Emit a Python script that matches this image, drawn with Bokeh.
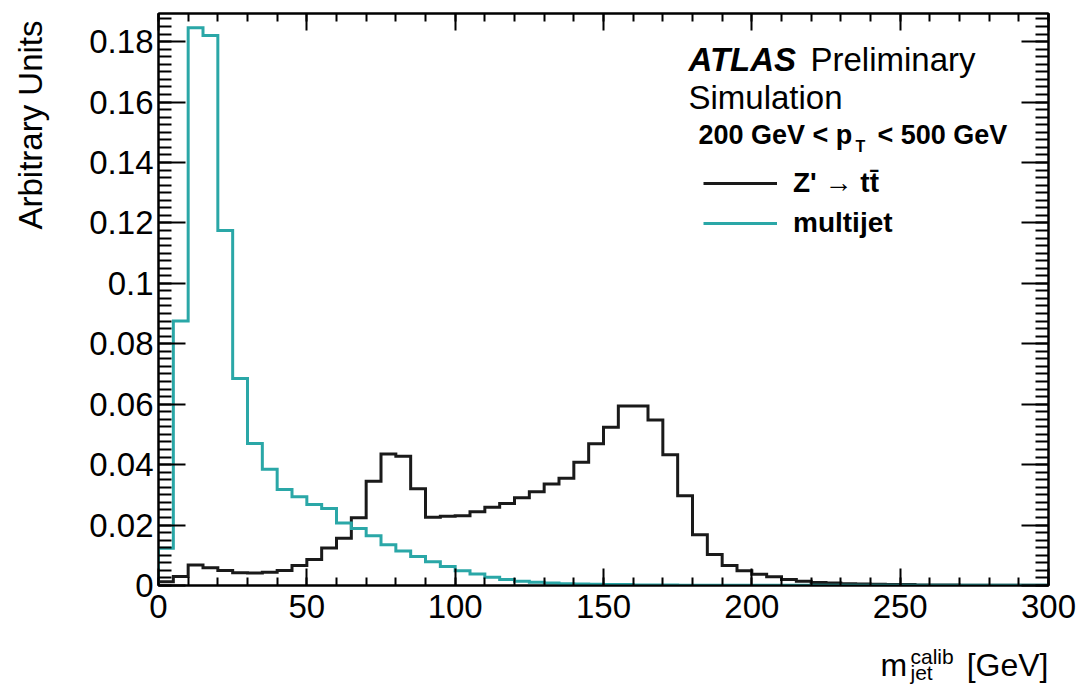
import numpy as np
from bokeh.plotting import figure
from bokeh.layouts import row, column
from bokeh.models import (Range1d, LinearAxis, FixedTicker, Label, Legend, LegendItem,
                          CustomJSTickFormatter)
from bokeh.embed import file_html
from bokeh.resources import INLINE

# ---- data ----
bin_width = 5.0
x_min, x_max = 0.0, 300.0

zprime_ttbar = [
    0.0012, 0.0030, 0.0068, 0.0059, 0.0050, 0.0042, 0.0041, 0.0044, 0.0050, 0.0066,
    0.0086, 0.0124, 0.0156, 0.0224, 0.0345, 0.0435, 0.0428, 0.0320, 0.0226, 0.0229,
    0.0231, 0.0244, 0.0259, 0.0271, 0.0290, 0.0310, 0.0336, 0.0355, 0.0408, 0.0469,
    0.0524, 0.0594, 0.0594, 0.0548, 0.0433, 0.0297, 0.0168, 0.0103, 0.0066, 0.0049,
    0.0037, 0.0029, 0.0020, 0.0014, 0.0010, 0.0008, 0.0006, 0.0005, 0.0004, 0.0003,
    0.0003, 0.0002, 0.0002, 0.0002, 0.0001, 0.0001, 0.0001, 0.0001, 0.0001, 0.0001,
]

multijet = [
    0.0123, 0.0875, 0.1846, 0.1820, 0.1175, 0.0685, 0.0470, 0.0385, 0.0318, 0.0294,
    0.0268, 0.0255, 0.0207, 0.0189, 0.0165, 0.0135, 0.0114, 0.0096, 0.0079, 0.0063,
    0.0049, 0.0038, 0.0027, 0.0020, 0.0014, 0.0011, 0.0008, 0.0006, 0.0005, 0.0004,
    0.0003, 0.0003, 0.0002, 0.0002, 0.0002, 0.0001, 0.0001, 0.0001, 0.0001, 0.0001,
    0.0001, 0.0001, 0.0001, 0.0001, 0.0001, 0.0001, 0.0001, 0.0001, 0.0001, 0.0001,
    0.0001, 0.0001, 0.0001, 0.0001, 0.0001, 0.0001, 0.0001, 0.0001, 0.0001, 0.0001,
]

series_labels = ["Z' \u2192 tt\u0304", "multijet"]

x_ticks = [0, 50, 100, 150, 200, 250, 300]
x_tick_labels = ["0", "50", "100", "150", "200", "250", "300"]
y_ticks = [0, 0.02, 0.04, 0.06, 0.08, 0.1, 0.12, 0.14, 0.16, 0.18]
y_tick_labels = ["0", "0.02", "0.04", "0.06", "0.08", "0.1", "0.12", "0.14", "0.16", "0.18"]
y_top = 0.1893

FONT = "Liberation Sans"
BLACK = "#1a1a1a"
TEAL = "#2aa7a7"

LEFT_W = 60
MAIN_H = 640
TOTAL_W = 1076
TOTAL_H = 685

# ---- main figure ----
p = figure(width=TOTAL_W - LEFT_W, height=MAIN_H, output_backend="svg", toolbar_location=None,
           x_range=Range1d(x_min, x_max), y_range=Range1d(0, y_top),
           min_border_left=158 - LEFT_W, min_border_right=28, min_border_top=13,
           min_border_bottom=MAIN_H - 585,
           x_axis_type=None, y_axis_type=None)
p.grid.visible = False
p.outline_line_color = "black"
p.outline_line_width = 2
p.background_fill_color = "white"
p.border_fill_color = "white"

edges = np.arange(x_min, x_max + bin_width / 2, bin_width)


def step_outline(vals):
    xs = np.repeat(edges, 2)
    ys = np.concatenate([[0.0], np.repeat(np.asarray(vals, dtype=float), 2), [0.0]])
    return xs, ys


bx, by = step_outline(zprime_ttbar)
tx, ty = step_outline(multijet)
r_black = p.line(bx, by, line_color=BLACK, line_width=3, line_join="miter")
r_teal = p.line(tx, ty, line_color=TEAL, line_width=3, line_join="miter")

x_minor = list(np.arange(x_min, x_max + 0.1, 10))
y_minor = list(np.arange(0, y_top, 0.0025))
xt = FixedTicker(ticks=x_ticks, minor_ticks=x_minor)
yt = FixedTicker(ticks=y_ticks, minor_ticks=y_minor)
blank = CustomJSTickFormatter(code="return '';")


def style_axis(ax, tick_major, tick_minor, standoff):
    ax.axis_line_color = "black"
    ax.axis_line_width = 2
    ax.major_tick_in = tick_major
    ax.major_tick_out = 0
    ax.minor_tick_in = tick_minor
    ax.minor_tick_out = 0
    ax.major_tick_line_width = 2
    ax.minor_tick_line_width = 2
    ax.major_tick_line_color = "black"
    ax.minor_tick_line_color = "black"
    ax.major_label_text_font = FONT
    ax.major_label_text_color = "black"
    ax.major_label_text_font_size = "33px"
    ax.major_label_standoff = standoff


xb = LinearAxis(ticker=xt, major_label_overrides={t: l for t, l in zip(x_ticks, x_tick_labels)})
style_axis(xb, 17, 8, 9)
p.add_layout(xb, "below")
xa = LinearAxis(ticker=xt, formatter=blank)
style_axis(xa, 17, 8, 0)
p.add_layout(xa, "above")
yl = LinearAxis(ticker=yt, major_label_overrides={t: l for t, l in zip(y_ticks, y_tick_labels)})
style_axis(yl, 27, 13, 5)
p.add_layout(yl, "left")
yr = LinearAxis(ticker=yt, formatter=blank)
style_axis(yr, 27, 13, 0)
p.add_layout(yr, "right")


def lab(fig, text, x, y, size, style="normal", align="left", angle=0.0):
    fig.add_layout(Label(x=x, y=y, x_units="screen", y_units="screen", text=text,
                         text_font=FONT, text_font_size=size, text_font_style=style,
                         text_align=align, text_baseline="alphabetic", angle=angle,
                         text_color="black"))


# ATLAS block (screen coords relative to the frame's bottom-left)
lab(p, "ATLAS", 530, 526, "33px", "bold italic")
lab(p, "Preliminary", 652, 526, "33px")
lab(p, "Simulation", 530, 488, "33px")
lab(p, "200 GeV < p", 540, 451, "27px", "bold")
lab(p, "T", 697, 439, "16px", "bold")
lab(p, "< 500 GeV", 719, 451, "27px", "bold")

legend = Legend(items=[LegendItem(label=series_labels[0], renderers=[r_black]),
                       LegendItem(label=series_labels[1], renderers=[r_teal])],
                location=(545, 346))
legend.glyph_width = 74
legend.glyph_height = 24
legend.label_height = 24
legend.label_standoff = 16
legend.spacing = 8
legend.padding = 0
legend.margin = 0
legend.border_line_color = None
legend.background_fill_alpha = 0
legend.label_text_font = FONT
legend.label_text_font_size = "28px"
legend.label_text_font_style = "bold"
legend.label_text_color = "black"
p.add_layout(legend)


def blank_fig(w, h):
    f = figure(width=w, height=h, output_backend="svg", toolbar_location=None,
               x_range=Range1d(0, 1), y_range=Range1d(0, 1),
               min_border=0, x_axis_type=None, y_axis_type=None)
    f.grid.visible = False
    f.outline_line_color = None
    f.background_fill_color = "white"
    f.border_fill_color = "white"
    return f


# y-axis title panel (text starts at the bottom and reads upwards)
left = blank_fig(LEFT_W, MAIN_H)
lab(left, "Arbitrary Units", 30, 356, "33px", "normal", "left", np.pi / 2)

# x-axis title panel
bottom = blank_fig(TOTAL_W, TOTAL_H - MAIN_H)
lab(bottom, "m", 880, 21, "32px")
lab(bottom, "calib", 910, 29, "21px")
lab(bottom, "jet", 910, 13, "21px")
lab(bottom, "[GeV]", 1048, 21, "32px", "normal", "right")

layout = column(row(left, p, spacing=0), bottom, spacing=0)
open("out.html", "w").write(file_html(layout, INLINE))
